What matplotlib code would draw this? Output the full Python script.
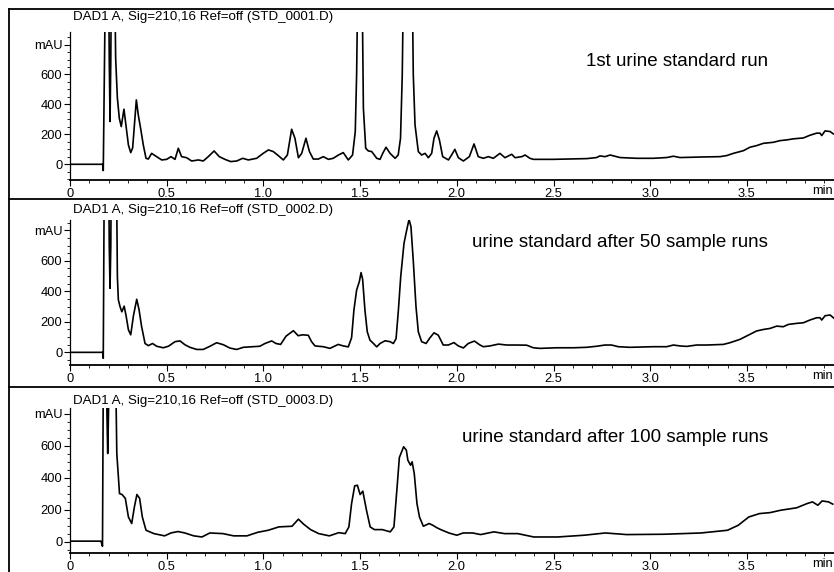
import numpy as np
import matplotlib
matplotlib.use("Agg")
import matplotlib.pyplot as plt
from matplotlib.lines import Line2D
from matplotlib.ticker import MultipleLocator, FixedLocator

plt.rcParams['font.family'] = ['Liberation Sans', 'DejaVu Sans']

# Chromatograms: columns are retention time (min) and absorbance (mAU).
# Off-scale peaks are given as 1500 and get clipped at the top of the axis.
run1 = np.array([
    (0.000, 0), (0.169, 0), (0.172, -42), (0.176, 400), (0.180, 900),
    (0.186, 1500), (0.198, 1500), (0.203, 700), (0.207, 286), (0.211, 700),
    (0.215, 1500), (0.229, 1500), (0.236, 710), (0.245, 442), (0.255, 308),
    (0.265, 252), (0.279, 368), (0.290, 252), (0.302, 129), (0.314, 78),
    (0.324, 110), (0.333, 263), (0.343, 430), (0.353, 330), (0.365, 241),
    (0.379, 129), (0.393, 40), (0.405, 35), (0.422, 73), (0.448, 51),
    (0.474, 29), (0.500, 33), (0.522, 51), (0.543, 33), (0.560, 107),
    (0.577, 51), (0.603, 44), (0.629, 22), (0.664, 29), (0.689, 22),
    (0.715, 51), (0.745, 89), (0.772, 51), (0.801, 33), (0.831, 18),
    (0.862, 22), (0.893, 40), (0.922, 29), (0.965, 40), (0.999, 73),
    (1.026, 96), (1.051, 85), (1.077, 58), (1.103, 29), (1.124, 62),
    (1.146, 234), (1.163, 174), (1.181, 44), (1.198, 73), (1.220, 174),
    (1.238, 85), (1.258, 35), (1.284, 35), (1.310, 51), (1.336, 33),
    (1.361, 40), (1.388, 62), (1.413, 78), (1.439, 29), (1.461, 62),
    (1.475, 218), (1.482, 598), (1.491, 1500), (1.508, 1500), (1.517, 375),
    (1.529, 107), (1.543, 89), (1.560, 85), (1.586, 40), (1.603, 33),
    (1.617, 73), (1.634, 114), (1.655, 73), (1.681, 40), (1.697, 62),
    (1.709, 174), (1.718, 598), (1.727, 1500), (1.767, 1500), (1.775, 598),
    (1.784, 263), (1.801, 85), (1.818, 62), (1.836, 73), (1.853, 44),
    (1.870, 73), (1.882, 174), (1.896, 223), (1.910, 163), (1.927, 51),
    (1.957, 29), (1.973, 62), (1.990, 100), (2.008, 44), (2.034, 22),
    (2.065, 51), (2.089, 136), (2.111, 51), (2.137, 40), (2.163, 51),
    (2.189, 40), (2.223, 73), (2.249, 44), (2.284, 67), (2.301, 44),
    (2.336, 51), (2.353, 62), (2.378, 40), (2.396, 33), (2.499, 33),
    (2.672, 38), (2.723, 45), (2.740, 56), (2.766, 51), (2.793, 62),
    (2.844, 45), (2.930, 40), (3.016, 40), (3.085, 45), (3.120, 54),
    (3.154, 45), (3.275, 49), (3.361, 51), (3.395, 58), (3.430, 73),
    (3.482, 91), (3.516, 114), (3.551, 125), (3.585, 140), (3.637, 147),
    (3.671, 158), (3.706, 163), (3.740, 170), (3.792, 176), (3.826, 194),
    (3.861, 208), (3.878, 208), (3.887, 192), (3.904, 223), (3.930, 219),
    (3.947, 203),
])

run2 = np.array([
    (0.000, 0), (0.169, 0), (0.172, -39), (0.176, 900), (0.180, 1500),
    (0.198, 1500), (0.203, 700), (0.207, 420), (0.211, 700), (0.215, 1500),
    (0.238, 1500), (0.245, 497), (0.250, 344), (0.259, 299), (0.268, 266),
    (0.280, 303), (0.290, 240), (0.302, 148), (0.314, 115), (0.328, 240),
    (0.345, 348), (0.357, 280), (0.370, 171), (0.388, 58), (0.405, 44),
    (0.427, 58), (0.448, 40), (0.482, 30), (0.509, 40), (0.543, 70),
    (0.569, 75), (0.594, 50), (0.620, 33), (0.655, 19), (0.689, 19),
    (0.724, 40), (0.758, 63), (0.793, 50), (0.827, 28), (0.862, 19),
    (0.896, 33), (0.948, 37), (0.982, 40), (1.008, 58), (1.043, 75),
    (1.065, 58), (1.089, 52), (1.117, 106), (1.155, 142), (1.180, 109),
    (1.203, 115), (1.232, 112), (1.249, 70), (1.267, 42), (1.310, 37),
    (1.344, 26), (1.387, 52), (1.413, 42), (1.439, 36), (1.456, 96),
    (1.468, 277), (1.482, 409), (1.496, 464), (1.505, 523), (1.513, 480),
    (1.525, 277), (1.537, 135), (1.551, 80), (1.569, 58), (1.586, 36),
    (1.603, 58), (1.629, 76), (1.655, 70), (1.672, 58), (1.686, 90),
    (1.698, 277), (1.710, 496), (1.727, 715), (1.741, 802), (1.753, 872),
    (1.763, 824), (1.775, 600), (1.789, 300), (1.801, 135), (1.818, 70),
    (1.841, 58), (1.861, 95), (1.882, 128), (1.904, 113), (1.930, 48),
    (1.956, 48), (1.985, 64), (2.008, 42), (2.034, 29), (2.059, 58),
    (2.091, 74), (2.120, 48), (2.137, 37), (2.171, 42), (2.215, 54),
    (2.258, 48), (2.309, 48), (2.361, 47), (2.396, 30), (2.430, 26),
    (2.516, 30), (2.603, 30), (2.672, 33), (2.723, 40), (2.766, 48),
    (2.800, 48), (2.835, 37), (2.895, 33), (3.016, 37), (3.085, 37),
    (3.120, 48), (3.154, 42), (3.189, 39), (3.240, 48), (3.292, 48),
    (3.378, 52), (3.412, 63), (3.464, 85), (3.516, 118), (3.550, 140),
    (3.585, 150), (3.620, 157), (3.654, 172), (3.688, 168), (3.714, 183),
    (3.757, 190), (3.792, 194), (3.826, 212), (3.861, 227), (3.878, 227),
    (3.887, 212), (3.904, 240), (3.930, 245), (3.951, 223),
])

run3 = np.array([
    (0.000, 5), (0.160, 5), (0.168, -27), (0.174, 1500), (0.187, 1500),
    (0.191, 800), (0.195, 552), (0.199, 800), (0.204, 1500), (0.231, 1500),
    (0.242, 552), (0.256, 302), (0.269, 296), (0.286, 272), (0.302, 156),
    (0.319, 115), (0.333, 219), (0.346, 296), (0.360, 272), (0.374, 156),
    (0.393, 73), (0.434, 52), (0.489, 38), (0.522, 56), (0.558, 65),
    (0.594, 56), (0.640, 38), (0.682, 31), (0.723, 56), (0.791, 52),
    (0.846, 38), (0.915, 38), (0.970, 60), (1.025, 73), (1.080, 94),
    (1.148, 98), (1.181, 142), (1.209, 110), (1.244, 77), (1.286, 52),
    (1.341, 38), (1.390, 58), (1.423, 52), (1.442, 94), (1.456, 240),
    (1.472, 350), (1.486, 354), (1.500, 296), (1.514, 317), (1.533, 198),
    (1.552, 94), (1.574, 77), (1.615, 77), (1.656, 63), (1.675, 94),
    (1.692, 354), (1.703, 527), (1.725, 594), (1.739, 573), (1.747, 510),
    (1.761, 479), (1.769, 500), (1.780, 427), (1.794, 240), (1.807, 156),
    (1.827, 98), (1.857, 115), (1.876, 104), (1.895, 90), (1.917, 77),
    (1.959, 56), (2.000, 42), (2.033, 56), (2.082, 56), (2.123, 46),
    (2.192, 63), (2.247, 52), (2.315, 52), (2.398, 31), (2.521, 31),
    (2.659, 42), (2.768, 56), (2.878, 46), (3.070, 48), (3.263, 56),
    (3.400, 73), (3.455, 104), (3.510, 156), (3.565, 177), (3.620, 183),
    (3.675, 198), (3.757, 213), (3.812, 240), (3.839, 250), (3.867, 229),
    (3.889, 256), (3.922, 250), (3.944, 236),
])

runs = [run1, run2, run3]
titles = [
    'DAD1 A, Sig=210,16 Ref=off (STD_0001.D)',
    'DAD1 A, Sig=210,16 Ref=off (STD_0002.D)',
    'DAD1 A, Sig=210,16 Ref=off (STD_0003.D)',
]
notes = [
    '1st urine standard run',
    'urine standard after 50 sample runs',
    'urine standard after 100 sample runs',
]
x_major = [0, 0.5, 1.0, 1.5, 2.0, 2.5, 3.0, 3.5]
x_labels = ['0', '0.5', '1.0', '1.5', '2.0', '2.5', '3.0', '3.5']
y_major = [0, 200, 400, 600, 800]
y_labels = ['0', '200', '400', '600', 'mAU']

W, H = 834, 572
fig = plt.figure(figsize=(W / 100, H / 100), dpi=100)

# panel layout in pixels: (axis top, axis bottom, ymin, ymax, title y, note y)
layout = [
    (32, 180, -105, 884, 17, 62),
    (220, 365, -83, 868, 210, 242),
    (408, 553, -69, 836, 401, 437),
]
x0_px, px_per_min, xmax = 70, 193.4, 4.1

for run, title, note, (top, bot, ymin, ymax, ty, ny) in zip(
        runs, titles, notes, layout):
    ax = fig.add_axes([x0_px / W, 1 - bot / H,
                       xmax * px_per_min / W, (bot - top) / H])
    ax.plot(run[:, 0], run[:, 1], color='black', lw=1.2)
    ax.set_xlim(0, xmax)
    ax.set_ylim(ymin, ymax)
    ax.patch.set_alpha(0)
    for side in ('top', 'right'):
        ax.spines[side].set_visible(False)
    ax.spines['left'].set_linewidth(0.9)
    ax.spines['bottom'].set_linewidth(1.3)

    ax.xaxis.set_major_locator(FixedLocator(x_major))
    ax.set_xticklabels(x_labels)
    ax.xaxis.set_minor_locator(MultipleLocator(0.1))
    ax.yaxis.set_major_locator(FixedLocator(y_major))
    ax.set_yticklabels(y_labels)
    ax.yaxis.set_minor_locator(MultipleLocator(50))
    ax.tick_params(which='major', direction='out', length=4, width=0.8,
                   labelsize=9.3, pad=1.5)
    ax.tick_params(which='minor', direction='out', length=2, width=0.6)
    # unit label sits at the right end of the time axis
    ax.text(3.835, -0.035, 'min', transform=ax.get_xaxis_transform(),
            ha='left', va='top', fontsize=9.3)

    fig.text(73 / W, 1 - ty / H, title, ha='left', va='center', fontsize=9.6)
    fig.text(768 / W, 1 - ny / H, note, ha='right', va='center',
             fontsize=13.5)

# frame around the stacked runs
frame = dict(color='black', lw=1.3, transform=fig.transFigure)
fig.add_artist(Line2D([9 / W, 9 / W], [1 - 9 / H, 0], **frame))
for y in (9, 199, 387):
    fig.add_artist(Line2D([9 / W, 1], [1 - y / H, 1 - y / H], **frame))

fig.savefig('out.png', dpi=100, facecolor='white')
